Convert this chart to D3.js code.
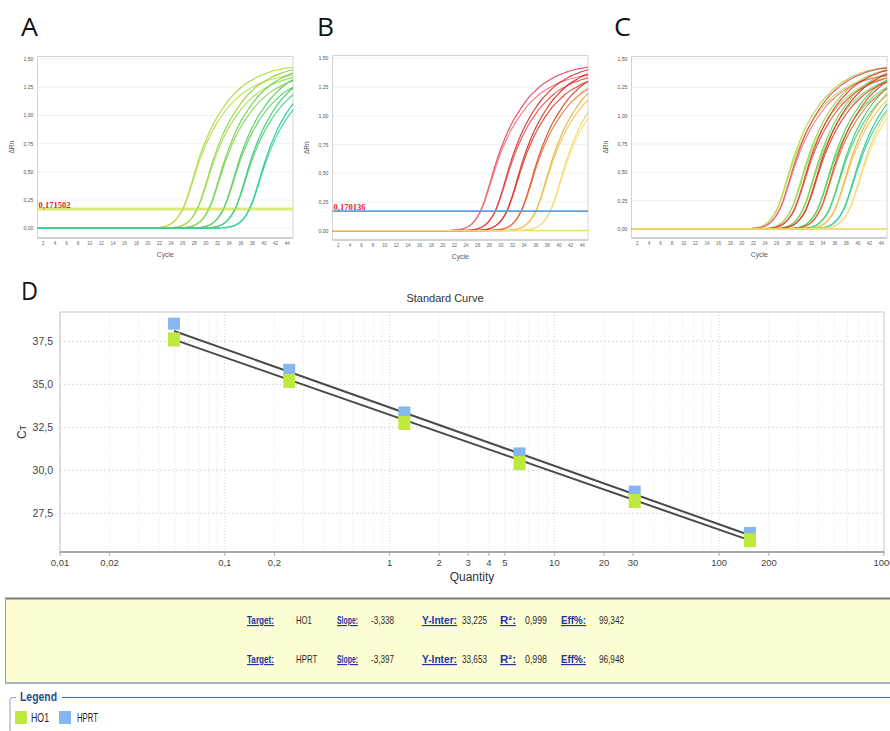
<!DOCTYPE html>
<html><head><meta charset="utf-8">
<script src="https://cdn.jsdelivr.net/npm/d3@7"></script>
<style>
body{margin:0;background:#fff;}
svg{display:block;}
</style></head>
<body><svg id="c" width="890" height="731"></svg>
<script>
// ---------------- DATA ----------------
// amplification curves: ΔRn at cycles 20..45 (before cycle 20 the signal is flat at 0)
const firstDataCycle = 20;
const baselineCycle = 1;
const ho1Curves = [
  [0.001,0.003,0.007,0.017,0.040,0.088,0.170,0.310,0.480,0.645,0.780,0.895,0.990,1.070,1.140,1.195,1.245,1.285,1.315,1.345,1.365,1.385,1.400,1.410,1.420,1.425],
  [0.001,0.003,0.007,0.016,0.038,0.084,0.162,0.295,0.456,0.613,0.741,0.850,0.941,1.017,1.083,1.135,1.183,1.221,1.249,1.278,1.297,1.316,1.330,1.340,1.349,1.354],
  [0,0,0.001,0.002,0.005,0.011,0.026,0.060,0.125,0.235,0.395,0.565,0.715,0.840,0.945,1.030,1.105,1.170,1.220,1.265,1.300,1.330,1.355,1.375,1.392,1.405],
  [0,0,0.001,0.002,0.005,0.010,0.025,0.057,0.119,0.223,0.375,0.537,0.679,0.798,0.898,0.979,1.050,1.112,1.159,1.202,1.235,1.264,1.287,1.306,1.322,1.335],
  [0,0,0,0,0.001,0.002,0.005,0.011,0.026,0.060,0.125,0.235,0.395,0.565,0.715,0.840,0.945,1.030,1.105,1.170,1.220,1.265,1.300,1.330,1.355,1.375],
  [0,0,0,0,0.001,0.002,0.005,0.010,0.025,0.057,0.119,0.223,0.375,0.537,0.679,0.798,0.898,0.979,1.050,1.112,1.159,1.202,1.235,1.264,1.287,1.306],
  [0,0,0,0,0,0,0,0.001,0.003,0.007,0.017,0.040,0.088,0.170,0.310,0.480,0.645,0.780,0.895,0.990,1.070,1.140,1.195,1.245,1.285,1.315],
  [0,0,0,0,0,0,0,0.001,0.003,0.007,0.016,0.038,0.084,0.162,0.295,0.456,0.613,0.741,0.850,0.941,1.017,1.083,1.135,1.183,1.221,1.249],
  [0,0,0,0,0,0,0,0,0,0.001,0.003,0.007,0.017,0.040,0.088,0.170,0.310,0.480,0.645,0.780,0.895,0.990,1.070,1.140,1.195,1.245],
  [0,0,0,0,0,0,0,0,0,0.001,0.003,0.007,0.016,0.038,0.084,0.162,0.295,0.456,0.613,0.741,0.850,0.941,1.017,1.083,1.135,1.183],
  [0,0,0,0,0,0,0,0,0,0,0,0.001,0.002,0.005,0.011,0.026,0.060,0.125,0.235,0.395,0.565,0.715,0.840,0.945,1.030,1.105],
  [0,0,0,0,0,0,0,0,0,0,0,0.001,0.002,0.005,0.010,0.025,0.057,0.119,0.223,0.375,0.537,0.679,0.798,0.898,0.979,1.050]
];
const ho1Colors = ["#a9d83a","#b9e24c","#92d444","#a2de56","#72d04a","#84d95a","#4fcc55","#62d466","#35cb6c","#48d37c","#22c88b","#3bd29c"];

const hprtCurves = [
  [0.001,0.002,0.005,0.011,0.026,0.060,0.125,0.235,0.395,0.565,0.715,0.840,0.945,1.030,1.105,1.170,1.220,1.265,1.300,1.330,1.355,1.375,1.392,1.405,1.415,1.422],
  [0.001,0.002,0.005,0.010,0.025,0.057,0.119,0.223,0.375,0.537,0.679,0.798,0.898,0.979,1.050,1.112,1.159,1.202,1.235,1.264,1.287,1.306,1.322,1.335,1.344,1.351],
  [0,0,0,0.001,0.003,0.007,0.017,0.040,0.088,0.170,0.310,0.480,0.645,0.780,0.895,0.990,1.070,1.140,1.195,1.245,1.285,1.315,1.345,1.365,1.385,1.400],
  [0,0,0,0.001,0.003,0.007,0.016,0.038,0.084,0.162,0.295,0.456,0.613,0.741,0.850,0.941,1.017,1.083,1.135,1.183,1.221,1.249,1.278,1.297,1.316,1.330],
  [0,0,0,0,0,0.001,0.003,0.007,0.017,0.040,0.088,0.170,0.310,0.480,0.645,0.780,0.895,0.990,1.070,1.140,1.195,1.245,1.285,1.315,1.345,1.365],
  [0,0,0,0,0,0.001,0.003,0.007,0.016,0.038,0.084,0.162,0.295,0.456,0.613,0.741,0.850,0.941,1.017,1.083,1.135,1.183,1.221,1.249,1.278,1.297],
  [0,0,0,0,0,0,0,0.001,0.002,0.005,0.011,0.026,0.060,0.125,0.235,0.395,0.565,0.715,0.840,0.945,1.030,1.105,1.170,1.220,1.265,1.300],
  [0,0,0,0,0,0,0,0.001,0.002,0.005,0.010,0.025,0.057,0.119,0.223,0.375,0.537,0.679,0.798,0.898,0.979,1.050,1.112,1.159,1.202,1.235],
  [0,0,0,0,0,0,0,0,0,0,0.001,0.003,0.007,0.017,0.040,0.088,0.170,0.310,0.480,0.645,0.780,0.895,0.990,1.070,1.140,1.195],
  [0,0,0,0,0,0,0,0,0,0,0.001,0.003,0.007,0.016,0.038,0.084,0.162,0.295,0.456,0.613,0.741,0.850,0.941,1.017,1.083,1.135],
  [0,0,0,0,0,0,0,0,0,0,0,0,0.001,0.002,0.005,0.011,0.026,0.060,0.125,0.235,0.395,0.565,0.715,0.840,0.945,1.030],
  [0,0,0,0,0,0,0,0,0,0,0,0,0.001,0.002,0.005,0.010,0.025,0.057,0.119,0.223,0.375,0.537,0.679,0.798,0.898,0.979]
];
const hprtColors = ["#e6435c","#f07585","#df2d2d","#e85050","#d42a22","#e04530","#d9452a","#e8743a","#e6b03a","#efc850","#f0d860","#f3e27c"];
const ntcValues = [0,0,0,0,0,0,0,0,0,0,0,0,0,0,0,0,0,0,0,0,0,0,0,0,0,0];

const thresholdA = 0.171502;
const thresholdB = 0.170136;
const cycleTicks = [2,4,6,8,10,12,14,16,18,20,22,24,26,28,30,32,34,36,38,40,42,44];
const drnTicks = [0,0.25,0.5,0.75,1.0,1.25,1.5];

// standard curve
const quantities = [0.0492, 0.246, 1.229, 6.144, 30.72, 153.6];
const ho1Ct  = [37.66, 35.25, 32.81, 30.48, 28.27, 25.99];
const hprtCt = [38.52, 35.84, 33.36, 30.98, 28.76, 26.36];
const qTicks = [0.01,0.02,0.1,0.2,1,2,3,4,5,10,20,30,100,200,1000];
const ctTicks = [27.5,30,32.5,35,37.5];

// regression results
const targets = ["HO1","HPRT"];
const slopes = [-3.338, -3.397];
const yInters = [33.225, 33.653];
const r2s = [0.999, 0.998];
const effs = [99.342, 96.948];
const seriesColors = ["#bfe93c", "#86b6ee"];

// ---------------- DRAW ----------------
const svg = d3.select("#c");
const SANS = "'Liberation Sans',Arial,sans-serif";
const LETTER = "'Open Sans','Liberation Sans',sans-serif";
const loc = d3.formatLocale({decimal:",", thousands:"", grouping:[3], currency:["",""], minus:"-"});
const f2 = loc.format(".2f"), f1 = loc.format(".1f"), fg = loc.format("~g"), f3 = loc.format(".3f");

function toPoints(vals){
  return [[baselineCycle, 0]].concat(vals.map((v,i)=>[firstDataCycle+i, v]));
}
function panelLetter(x, y, ch){
  svg.append("text").attr("x",x).attr("y",y).attr("font-family",LETTER).attr("font-size",26)
    .attr("fill","#111").attr("textLength",17).attr("lengthAdjust","spacingAndGlyphs").text(ch);
}

function ampPanel(cfg){
  const g = svg.append("g");
  const x = d3.scaleLinear().domain([1,45]).range([cfg.x0, cfg.x1]);
  const y = d3.scaleLinear().domain([0,1.5]).range([cfg.yZero, cfg.yTop]);
  g.selectAll(".gh").data(drnTicks).join("line")
    .attr("x1",cfg.x0).attr("x2",cfg.x1).attr("y1",d=>y(d)).attr("y2",d=>y(d))
    .attr("stroke","#f1f1f1").attr("stroke-width",1);
  g.append("rect").attr("x",cfg.x0).attr("y",cfg.fTop).attr("width",cfg.x1-cfg.x0).attr("height",cfg.fBot-cfg.fTop)
    .attr("fill","none").attr("stroke","#d4d4d4").attr("stroke-width",1);
  g.append("line").attr("x1",cfg.x0).attr("x2",cfg.x1).attr("y1",cfg.fBot).attr("y2",cfg.fBot).attr("stroke","#bbb");
  g.selectAll(".xt").data(cycleTicks).join("text")
    .attr("x",d=>x(d)).attr("y",cfg.fBot+7).attr("text-anchor","middle")
    .attr("font-family",SANS).attr("font-size",4.6).attr("fill","#666").text(d=>d);
  g.selectAll(".yt").data(drnTicks).join("text")
    .attr("x",cfg.x0-4).attr("y",d=>y(d)+2).attr("text-anchor","end")
    .attr("font-family",SANS).attr("font-size",5.2).attr("fill","#555").text(d=>f2(d));
  g.append("text").attr("x",(cfg.x0+cfg.x1)/2).attr("y",cfg.fBot+19).attr("text-anchor","middle")
    .attr("font-family",SANS).attr("font-size",6.8).attr("fill","#555").text("Cycle");
  g.append("text").attr("transform",`translate(${cfg.x0-24},${(cfg.fTop+cfg.fBot)/2}) rotate(-90)`)
    .attr("text-anchor","middle").attr("font-family",SANS).attr("font-size",6.5).attr("fill","#555").text("ΔRn");
  const line = d3.line().x(d=>x(d[0])).y(d=>y(d[1])).curve(d3.curveMonotoneX);
  if (cfg.threshold && cfg.thColor === "yg"){
    g.append("line").attr("x1",cfg.x0).attr("x2",cfg.x1).attr("y1",y(cfg.threshold)).attr("y2",y(cfg.threshold))
      .attr("stroke","#e9f29a").attr("stroke-width",3.5);
  }
  if (cfg.ntc) g.append("path").attr("d",line(toPoints(cfg.ntc))).attr("fill","none").attr("stroke","#e9da5c").attr("stroke-width",1.3);
  cfg.sets.forEach(set=>{
    g.selectAll(null).data(set.curves).join("path")
      .attr("d",d=>line(toPoints(d))).attr("fill","none")
      .attr("stroke",(d,i)=>set.colors[i]).attr("stroke-width",1.15).attr("stroke-opacity",0.95);
  });
  if (cfg.threshold){
    g.append("line").attr("x1",cfg.x0).attr("x2",cfg.x1).attr("y1",y(cfg.threshold)).attr("y2",y(cfg.threshold))
      .attr("stroke", cfg.thColor==="yg" ? "#d2e05a" : "#5f9fdc").attr("stroke-width", cfg.thColor==="yg"?1:1.6);
    g.append("text").attr("x",cfg.x0+1).attr("y",y(cfg.threshold)-1)
      .attr("font-family","'Liberation Serif','Times New Roman',serif").attr("font-weight","bold")
      .attr("font-size",8.5).attr("fill","#e0222a").text(loc.format(".6f")(cfg.threshold));
  }
  panelLetter(cfg.lx, 36, cfg.label);
}

ampPanel({label:"A", lx:21, x0:37.5, x1:293, yZero:228.3, yTop:59, fTop:56.5, fBot:238,
  threshold:thresholdA, thColor:"yg", sets:[{curves:ho1Curves, colors:ho1Colors}]});
ampPanel({label:"B", lx:317, x0:332.5, x1:588, yZero:230.7, yTop:58.3, fTop:55.5, fBot:240,
  threshold:thresholdB, thColor:"blue", ntc:ntcValues, sets:[{curves:hprtCurves, colors:hprtColors}]});
ampPanel({label:"C", lx:614, x0:631.5, x1:887, yZero:229, yTop:59, fTop:56.5, fBot:238,
  ntc:ntcValues, sets:[{curves:ho1Curves, colors:ho1Colors},{curves:hprtCurves, colors:hprtColors}]});

// ---------------- Panel D ----------------
const D = {l:60, r:884, t:312, b:552};
const xD = d3.scaleLog().domain([0.01,1000]).range([D.l, D.r]);
const yD = d3.scaleLinear().domain([25.25,39.2]).range([D.b, D.t]);
const gD = svg.append("g");
panelLetter(21, 300, "D");
gD.append("text").attr("x",445).attr("y",302).attr("text-anchor","middle").attr("font-family",SANS).attr("font-size",11).attr("fill","#333").text("Standard Curve");
const minor = [];
[0.01,0.1,1,10,100].forEach(dec=>{ for(let k=1;k<=9;k++) minor.push(dec*k); });
gD.selectAll(".vg").data(minor).join("line")
  .attr("x1",d=>xD(d)).attr("x2",d=>xD(d)).attr("y1",D.t).attr("y2",D.b)
  .attr("stroke",d=>[0.01,0.1,1,10,100].includes(d)?"#d6d6d6":"#e6e6e6").attr("stroke-dasharray","1,2").attr("stroke-width",1);
gD.selectAll(".hg").data(ctTicks).join("line")
  .attr("x1",D.l).attr("x2",D.r).attr("y1",d=>yD(d)).attr("y2",d=>yD(d))
  .attr("stroke","#d8d8d8").attr("stroke-dasharray","2,2");
gD.append("rect").attr("x",D.l).attr("y",D.t).attr("width",D.r-D.l).attr("height",D.b-D.t).attr("fill","none").attr("stroke","#c6c6c6");
gD.append("line").attr("x1",D.l).attr("x2",D.r).attr("y1",D.b).attr("y2",D.b).attr("stroke","#a8a8a8").attr("stroke-width",2);
gD.selectAll(".xtm").data(qTicks).join("line").attr("x1",d=>xD(d)).attr("x2",d=>xD(d)).attr("y1",D.b).attr("y2",D.b+4).attr("stroke","#aaa");
gD.selectAll(".xtl").data(qTicks).join("text").attr("x",d=>xD(d)).attr("y",D.b+14).attr("text-anchor","middle")
  .attr("font-family",SANS).attr("font-size",9.5).attr("fill","#444").text(d=>fg(d));
gD.selectAll(".ytl").data(ctTicks).join("text").attr("x",D.l-7).attr("y",d=>yD(d)+4).attr("text-anchor","end")
  .attr("font-family",SANS).attr("font-size",10.5).attr("fill","#444").text(d=>f1(d));
gD.append("text").attr("x",472).attr("y",581).attr("text-anchor","middle").attr("font-family",SANS).attr("font-size",12).attr("fill","#333").text("Quantity");
const ctLab = gD.append("text").attr("transform","translate(26,432) rotate(-90)").attr("text-anchor","middle")
  .attr("font-family",SANS).attr("font-size",12).attr("fill","#333");
ctLab.append("tspan").text("C");
ctLab.append("tspan").attr("font-size",9).text("T");
const qMin = d3.min(quantities), qMax = d3.max(quantities);
[1,0].forEach(i=>{
  const ends = [qMin,qMax].map(q=>[q, yInters[i] + slopes[i]*Math.log10(q)]);
  gD.append("line").attr("x1",xD(ends[0][0])).attr("y1",yD(ends[0][1])).attr("x2",xD(ends[1][0])).attr("y2",yD(ends[1][1]))
    .attr("stroke","#4a4a4a").attr("stroke-width",2);
});
const ms = 12;
[[hprtCt,1],[ho1Ct,0]].forEach(([cts,ci])=>{
  gD.selectAll(null).data(quantities.map((q,i)=>[q,cts[i]])).join("rect")
    .attr("x",d=>xD(d[0])-ms/2).attr("y",d=>yD(d[1])-ms/2).attr("width",ms).attr("height",ms+(ci===0?2:0))
    .attr("fill",seriesColors[ci]);
});

// ---------------- Results table ----------------
const gT = svg.append("g");
gT.append("rect").attr("x",5).attr("y",598).attr("width",890).attr("height",85).attr("fill","#fdfdd3");
gT.append("line").attr("x1",5).attr("x2",890).attr("y1",598.5).attr("y2",598.5).attr("stroke","#7a7a7a").attr("stroke-width",2);
gT.append("line").attr("x1",5.5).attr("x2",5.5).attr("y1",598).attr("y2",683).attr("stroke","#9a9a9a");
gT.append("line").attr("x1",5).attr("x2",890).attr("y1",683).attr("y2",683).attr("stroke","#9fb2c6").attr("stroke-width",2);
const rowY = [624, 663];
const colX = {t:247, tv:296, s:337, sv:371, y:422, yv:462, r:500, rv:525, e:561, ev:599};
const colW = {t:27, s:21, y:35, r:16, e:25};
const TFS = 11.5;
function lab(x,y,txt,w){
  gT.append("text").attr("x",x).attr("y",y).attr("font-family",SANS).attr("font-size",TFS)
    .attr("font-weight","bold").attr("fill","#2233a8").attr("text-decoration","underline")
    .attr("textLength",w).attr("lengthAdjust","spacingAndGlyphs").text(txt);
}
function val(x,y,txt,w){
  gT.append("text").attr("x",x).attr("y",y).attr("font-family",SANS).attr("font-size",TFS).attr("fill","#2a2a2a")
    .attr("textLength",w).attr("lengthAdjust","spacingAndGlyphs").text(txt);
}
targets.forEach((tg,i)=>{
  const y = rowY[i];
  lab(colX.t,y,"Target:",colW.t); val(colX.tv,y,tg, tg.length*5.3);
  lab(colX.s,y,"Slope:",colW.s); val(colX.sv,y,f3(slopes[i]),23);
  lab(colX.y,y,"Y-Inter:",colW.y); val(colX.yv,y,f3(yInters[i]),25);
  lab(colX.r,y,"R²:",colW.r); val(colX.rv,y,f3(r2s[i]),22);
  lab(colX.e,y,"Eff%:",colW.e); val(colX.ev,y,f3(effs[i]),25);
});

// ---------------- Legend ----------------
const gL = svg.append("g");
gL.append("path").attr("d","M10,731 L10,700 Q10,697.5 13,697.5 L16,697.5").attr("fill","none").attr("stroke","#8aa0b8");
gL.append("line").attr("x1",62).attr("x2",890).attr("y1",697.5).attr("y2",697.5).attr("stroke","#3d6fa8");
gL.append("text").attr("x",20).attr("y",701).attr("font-family",SANS).attr("font-size",12.5).attr("font-weight","bold")
  .attr("fill","#1f4e8c").attr("textLength",37).attr("lengthAdjust","spacingAndGlyphs").text("Legend");
const legItems = [{x:15, name:targets[0], c:seriesColors[0], tx:31, w:18},{x:59, name:targets[1], c:seriesColors[1], tx:77, w:21}];
legItems.forEach(d=>{
  gL.append("rect").attr("x",d.x).attr("y",711).attr("width",12).attr("height",13).attr("fill",d.c);
  gL.append("text").attr("x",d.tx).attr("y",722).attr("font-family",SANS).attr("font-size",12.5).attr("fill","#222")
    .attr("textLength",d.w).attr("lengthAdjust","spacingAndGlyphs").text(d.name);
});
</script></body></html>
